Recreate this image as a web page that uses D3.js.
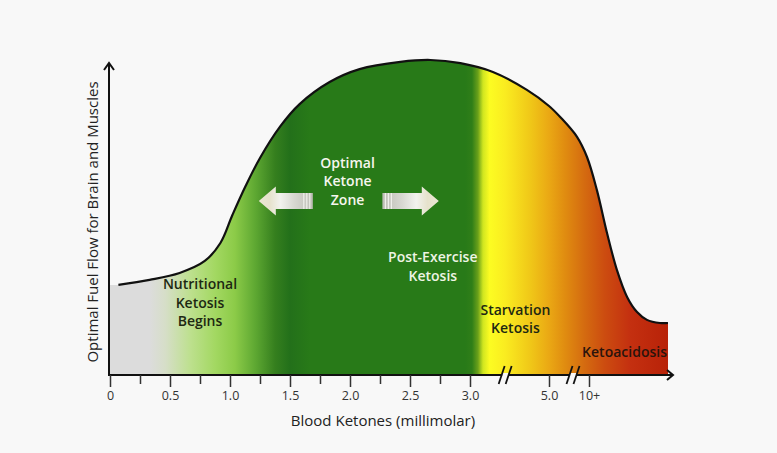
<!DOCTYPE html>
<html>
<head>
<meta charset="utf-8">
<script src="https://cdn.jsdelivr.net/npm/d3@7"></script>
<style>
  html, body { margin: 0; padding: 0; background: #f8f8f8; }
  svg { display: block; }
  text { font-family: "Open Sans", "Noto Sans", sans-serif; }
</style>
</head>
<body>
<svg id="chart" width="777" height="453"></svg>
<script>
// ---- data ----
const ketones  = [0, 0.07, 0.33, 0.58, 0.79, 0.92, 1.02, 1.13, 1.25, 1.42, 1.58, 1.83, 2.08, 2.42, 2.67, 2.92, 3.58, 4.44, 5.0, 6.4, 8.5, 9.75, 10.5, 11.14, 11.77, 12.41, 13.04, 13.67, 14.49, 15];
const fuelFlow = [28.6, 28.6, 30.2, 32.4, 36.2, 41.9, 50.8, 60, 68.9, 79, 86, 93, 97.1, 99.4, 100, 99.0, 96.2, 90.5, 85.4, 81.9, 75.6, 69.2, 58.7, 45.1, 33.3, 24.8, 20, 17.5, 16.5, 16.5];
const majorTicks = [0, 0.5, 1.0, 1.5, 2.0, 2.5, 3.0, 5.0, 10];
const tickLabels = ["0", "0.5", "1.0", "1.5", "2.0", "2.5", "3.0", "5.0", "10+"];
const minorTicks = [0.25, 0.75, 1.25, 1.75, 2.25, 2.75];
const axisBreaks = [3.89, 8.0];
const zoneStops = [0, 0.33, 0.46, 0.67, 0.875, 1.04, 1.21, 1.375, 1.5, 1.67, 2.96, 3.05, 3.2, 3.33, 3.5, 3.89, 4.52, 5.0, 7.0, 9.5, 11.0, 12.6, 15];
const zoneColors = ["#dcdcdc", "#dcdcdc", "#d6dec8", "#bde08e", "#a3d862", "#8ccb48", "#5ea832", "#357f1e", "#23701a", "#287a18", "#287a18", "#2f7e18", "#6aa01a", "#d0e620", "#fcfc22", "#faec20", "#f0c818", "#eaa814", "#e08c10", "#d46a10", "#cc4c10", "#c43010", "#b82208"];
const labels = [
  { lines: ["Nutritional", "Ketosis", "Begins"], k: 0.75, f: 23.0, color: "#1d2812" },
  { lines: ["Optimal", "Ketone", "Zone"], k: 1.98, f: 61.5, color: "#f6f6ee" },
  { lines: ["Post-Exercise", "Ketosis"], k: 2.69, f: 34.4, color: "#eef4e4" },
  { lines: ["Starvation", "Ketosis"], k: 4.15, f: 17.8, color: "#1d2812" },
  { lines: ["Ketoacidosis"], k: 12.25, f: 7.3, color: "#2a140c" }
];
const zoneArrows = [ { from: 1.69, to: 1.24 }, { from: 2.27, to: 2.74 } ];
const arrowLevel = 55.2;

// ---- scales ----
const svg = d3.select("#chart");
const x = d3.scaleLinear().domain([0, 3, 5, 10, 15]).range([110, 470, 549, 589, 668]);
const y = d3.scaleLinear().domain([0, 100]).range([375, 60]);
const x0 = x(0) - 1, yBase = y(0), xEnd = 673, yTop = 63;

const defs = svg.append("defs");
const grad = defs.append("linearGradient").attr("id", "zones")
  .attr("gradientUnits", "userSpaceOnUse")
  .attr("x1", x(0)).attr("x2", x(15)).attr("y1", 0).attr("y2", 0);
zoneStops.forEach((k, i) => {
  grad.append("stop").attr("offset", (x(k) - x(0)) / (x(15) - x(0))).attr("stop-color", zoneColors[i]);
});

const pts = ketones.map((k, i) => [k, fuelFlow[i]]);
const curve = d3.curveCatmullRom.alpha(0.5);

// area
svg.append("path")
  .datum(pts)
  .attr("fill", "url(#zones)")
  .attr("d", d3.area().x(d => x(d[0])).y0(yBase).y1(d => y(d[1])).curve(curve));

// curve line
svg.append("path")
  .datum(pts.filter(d => d[0] >= 0.05))
  .attr("fill", "none").attr("stroke", "#111").attr("stroke-width", 2.2)
  .attr("d", d3.line().x(d => x(d[0])).y(d => y(d[1])).curve(curve));

// arrows for optimal zone
zoneArrows.forEach((a, i) => {
  const x1 = x(a.from), x2 = x(a.to), cy = y(arrowLevel);
  const dir = Math.sign(x2 - x1);
  const headLen = 17, headH = 14.5, shaftH = 8;
  const hb = x2 - dir * headLen;
  const gid = "arr" + i;
  const g = defs.append("linearGradient").attr("id", gid)
    .attr("gradientUnits", "userSpaceOnUse").attr("x1", x1).attr("x2", x2).attr("y1", 0).attr("y2", 0);
  [[0, "#bdbdb5"], [0.35, "#d8d8d2"], [0.6, "#f2f2ee"], [0.8, "#e6e2cc"], [1, "#ebe7d3"]].forEach(s =>
    g.append("stop").attr("offset", s[0]).attr("stop-color", s[1]));
  svg.append("path")
    .attr("fill", `url(#${gid})`)
    .attr("d", `M${x1},${cy - shaftH}L${hb},${cy - shaftH}L${hb},${cy - headH}L${x2},${cy}L${hb},${cy + headH}L${hb},${cy + shaftH}L${x1},${cy + shaftH}Z`);
  [3, 6, 9].forEach(o => {
    svg.append("line").attr("x1", x1 + dir * o).attr("x2", x1 + dir * o)
      .attr("y1", cy - shaftH).attr("y2", cy + shaftH)
      .attr("stroke", "#f4f4f0").attr("stroke-width", 1.2).attr("opacity", 0.9);
  });
});

// text labels
labels.forEach(l => {
  const t = svg.append("text")
    .attr("x", x(l.k)).attr("y", y(l.f))
    .attr("text-anchor", "middle")
    .attr("font-size", 14).attr("font-weight", 600)
    .attr("fill", l.color);
  const n = l.lines.length;
  l.lines.forEach((s, i) => {
    t.append("tspan").attr("x", x(l.k)).attr("y", y(l.f) + (i - (n - 1) / 2) * 18.3 + 5).text(s);
  });
});

// axes lines
svg.append("line").attr("x1", x0).attr("x2", xEnd).attr("y1", yBase).attr("y2", yBase)
  .attr("stroke", "#111").attr("stroke-width", 2);
svg.append("line").attr("x1", x0).attr("x2", x0).attr("y1", yBase + 1).attr("y2", yTop)
  .attr("stroke", "#111").attr("stroke-width", 2);
svg.append("path").attr("fill", "none").attr("stroke", "#111").attr("stroke-width", 2)
  .attr("d", `M${xEnd - 6},${yBase - 5}L${xEnd},${yBase}L${xEnd - 6},${yBase + 5}`);
svg.append("path").attr("fill", "none").attr("stroke", "#111").attr("stroke-width", 2)
  .attr("d", `M${x0 - 5},${yTop + 7}L${x0},${yTop}L${x0 + 5},${yTop + 7}`);

// ticks
const axis = d3.axisBottom(x).tickValues(majorTicks)
  .tickFormat((d, i) => tickLabels[i]).tickSize(12).tickPadding(4);
const ax = svg.append("g").attr("transform", `translate(0,${yBase})`).call(axis);
ax.select(".domain").remove();
ax.selectAll(".tick line").attr("stroke", "#333").attr("stroke-width", 1.5);
ax.selectAll(".tick text").attr("font-size", 12.5).attr("fill", "#333")
  .attr("font-family", "\"Open Sans\", sans-serif");
const minor = d3.axisBottom(x).tickValues(minorTicks).tickFormat("").tickSize(9);
const mx = svg.append("g").attr("transform", `translate(0,${yBase})`).call(minor);
mx.select(".domain").remove();
mx.selectAll(".tick line").attr("stroke", "#333").attr("stroke-width", 1.5);

// axis breaks
axisBreaks.forEach(k => {
  const cx = x(k);
  svg.append("rect").attr("x", cx - 3).attr("y", yBase - 2).attr("width", 6).attr("height", 4).attr("fill", "#f8f8f8");
  [-3.5, 3.5].forEach(o => {
    svg.append("line").attr("x1", cx + o - 3).attr("y1", yBase + 9).attr("x2", cx + o + 3).attr("y2", yBase - 9)
      .attr("stroke", "#111").attr("stroke-width", 1.8);
  });
});

// axis titles
svg.append("text").attr("x", 383).attr("y", 426).attr("text-anchor", "middle")
  .attr("font-size", 15).attr("fill", "#222").text("Blood Ketones (millimolar)");
svg.append("text").attr("transform", "translate(98,222) rotate(-90)").attr("text-anchor", "middle")
  .attr("font-size", 15).attr("fill", "#222").text("Optimal Fuel Flow for Brain and Muscles");
</script>
</body>
</html>
